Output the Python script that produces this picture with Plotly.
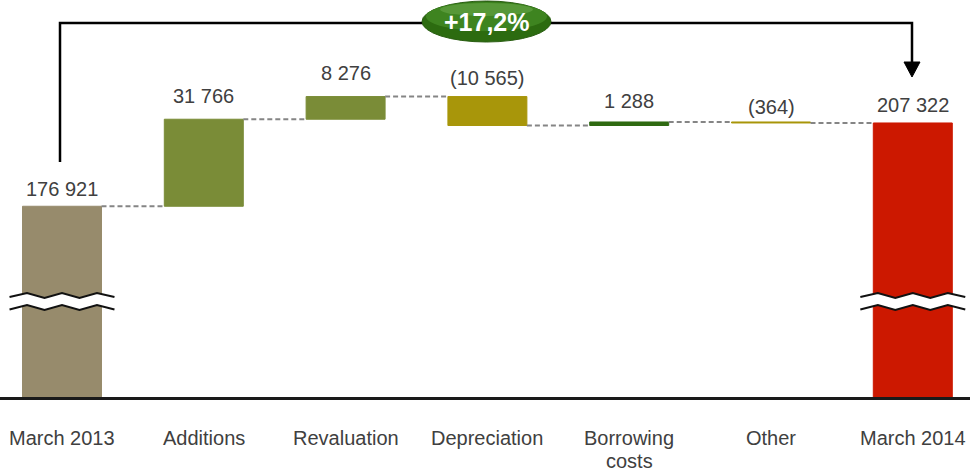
import plotly.graph_objects as go

# ---------------- data ----------------
categories = ["March 2013", "Additions", "Revaluation", "Depreciation",
              "Borrowing<br>costs", "Other", "March 2014"]
values = [176921, 31766, 8276, -10565, 1288, -364, 207322]
kinds = ["total", "delta", "delta", "delta", "delta", "delta", "total"]
value_labels = ["176 921", "31 766", "8 276", "(10 565)", "1 288", "(364)", "207 322"]
change_label = "+17,2%"

# ---------------- styling ----------------
colors = ["#978B6C", "#7A8C37", "#7A8C37", "#A8960A", "#2F6A12", "#A8960A", "#CC1800"]
label_gap = [17, 23, 24, 19, 21, 15, 18]   # px between bar top and label centre
FONT = "Liberation Sans, Arial, sans-serif"
TXT = "#404040"
W, H = 970, 474
MT, MB = 0, 77
PH = H - MT - MB
BAR_W = 0.557
Y_MIN = 107300
Y_MAX = Y_MIN + PH * 365.0
X_RANGE = [-62 / 141.8, (970 - 62) / 141.8]
CAT_Y0, CAT_LINE = 438, 23   # px centre of first category line, line spacing

def px(x):
    return x / W

def py(y):
    return 1 - y / PH

# ---------------- waterfall geometry from data ----------------
bases, tops, totals_after = [], [], []
running = 0
for v, k in zip(values, kinds):
    if k == "total":
        bases.append(0)
        running = v
        tops.append(v)
    else:
        bases.append(running)
        tops.append(max(running, running + v))
        running += v
    totals_after.append(running)

xs = list(range(len(categories)))

fig = go.Figure()

# connectors
for i in range(len(xs) - 1):
    fig.add_trace(go.Scatter(
        x=[xs[i] + BAR_W / 2, xs[i + 1] - BAR_W / 2],
        y=[totals_after[i], totals_after[i]],
        mode="lines",
        line=dict(color="#858585", width=2, dash="5px,3px"),
        hoverinfo="skip", showlegend=False))

fig.add_trace(go.Bar(
    x=xs, y=values, base=bases, width=BAR_W,
    marker=dict(color=colors, line=dict(width=1, color=colors)),
    showlegend=False, hoverinfo="skip"))

# value labels
for i in xs:
    fig.add_annotation(
        x=i, y=tops[i], xref="x", yref="y", text=value_labels[i],
        showarrow=False, yanchor="middle", yshift=label_gap[i],
        font=dict(family=FONT, size=20, color=TXT))

# category labels (line by line for tight spacing)
for i, cat in enumerate(categories):
    for j, line in enumerate(cat.split("<br>")):
        fig.add_annotation(
            x=i, y=py(CAT_Y0 + j * CAT_LINE), xref="x", yref="paper", text=line,
            showarrow=False, yanchor="middle", xanchor="center",
            font=dict(family=FONT, size=20, color=TXT))

shapes = []

# bracket with arrow (drawn first, below badge)
bracket = f"M {px(60)},{py(162)} L {px(60)},{py(23)} L {px(912)},{py(23)} L {px(912)},{py(66)}"
shapes.append(dict(type="path", xref="paper", yref="paper", path=bracket,
                   line=dict(color="black", width=2.5), layer="below"))
head = f"M {px(904)},{py(62)} L {px(920)},{py(62)} L {px(912)},{py(77)} Z"
shapes.append(dict(type="path", xref="paper", yref="paper", path=head,
                   fillcolor="black", line=dict(color="black", width=1), layer="below"))

# green badge
shapes.append(dict(type="circle", xref="paper", yref="paper",
                   x0=px(422), x1=px(551), y0=py(42), y1=py(1),
                   fillcolor="#2C6B10", line=dict(color="#2A5E12", width=1), layer="below"))
shapes.append(dict(type="circle", xref="paper", yref="paper",
                   x0=px(426), x1=px(547), y0=py(31), y1=py(2),
                   fillcolor="#3E8420", line=dict(width=0), layer="below"))
shapes.append(dict(type="circle", xref="paper", yref="paper",
                   x0=px(440), x1=px(533), y0=py(16), y1=py(3),
                   fillcolor="#5E9E3E", line=dict(width=0), layer="below", opacity=0.8))

# axis-break symbols on total bars
def zigzag(cx, y_end, y_peak, y_valley, half=0.37, n=6):
    pts = []
    for j in range(n + 1):
        x = cx - half + 2 * half * j / n
        if j == 0 or j == n:
            y = y_end
        elif j % 2 == 1:
            y = y_peak
        else:
            y = y_valley
        pts.append((x, py(y)))
    return pts

for i, k in enumerate(kinds):
    if k != "total":
        continue
    up = zigzag(i, 297, 293, 298)
    lo = zigzag(i, 309.5, 305, 310)
    poly = "M " + " L ".join(f"{x},{y}" for x, y in up + lo[::-1]) + " Z"
    shapes.append(dict(type="path", xref="x", yref="paper", path=poly,
                       fillcolor="white", line=dict(width=0), layer="above"))
    for pts in (up, lo):
        p = "M " + " L ".join(f"{x},{y}" for x, y in pts)
        shapes.append(dict(type="path", xref="x", yref="paper", path=p,
                           line=dict(color="#111111", width=2), layer="above"))

fig.add_annotation(x=px(486.5), y=py(22), xref="paper", yref="paper",
                   text=f"<b>{change_label}</b>", showarrow=False,
                   yanchor="middle", xanchor="center",
                   font=dict(family=FONT, size=25, color="white"))

fig.update_layout(
    width=W, height=H,
    margin=dict(l=0, r=0, t=MT, b=MB, pad=0),
    paper_bgcolor="white", plot_bgcolor="white",
    shapes=shapes, barmode="overlay",
    xaxis=dict(range=X_RANGE, tickmode="array", tickvals=xs, showticklabels=False,
               showgrid=False, zeroline=False, showline=True, linecolor="#1A1A1A",
               linewidth=2.5, ticks="", automargin=False, fixedrange=True),
    yaxis=dict(range=[Y_MIN, Y_MAX], visible=False, showgrid=False, automargin=False,
               zeroline=False, fixedrange=True),
)

fig.write_html("out.html", config={"displayModeBar": False},
               post_script="document.body.style.margin='0';document.body.style.padding='0';")
